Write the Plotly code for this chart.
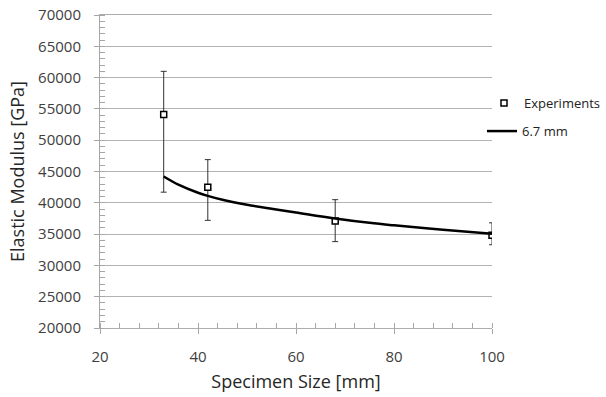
import plotly.graph_objects as go

exp_size = [33, 42, 68, 100]
exp_modulus = [54100, 42500, 37100, 34800]
err_plus = [6900, 4400, 3400, 2000]
err_minus = [12400, 5300, 3300, 1500]

curve_size = [33, 36, 40, 42, 45, 50, 55, 60, 68, 75, 80, 90, 100]
curve_modulus = [44200, 42900, 41600, 41100, 40500, 39700, 39050, 38450, 37500, 36800, 36400, 35700, 35050]

font = "Open Sans, Liberation Sans, sans-serif"

fig = go.Figure()
fig.add_trace(go.Scatter(
    x=exp_size, y=exp_modulus, mode="markers", name="Experiments", showlegend=True,
    marker=dict(symbol="square", size=6, color="white", line=dict(color="black", width=1.5)),
    error_y=dict(type="data", symmetric=False, array=err_plus, arrayminus=err_minus,
                 color="#333333", thickness=1, width=3),
    legend="legend"))
fig.add_trace(go.Scatter(
    x=curve_size, y=curve_modulus, mode="lines", name="6.7 mm", showlegend=True,
    line=dict(color="black", width=2.5, shape="spline"), legend="legend2"))

fig.update_layout(
    width=606, height=397, showlegend=True,
    margin=dict(l=100, r=114, t=15, b=69, autoexpand=False),
    paper_bgcolor="white", plot_bgcolor="white",
    font=dict(family=font, size=14, color="#404040"),
    legend=dict(x=0.9796, y=0.719, xanchor="left", yanchor="middle",
                font=dict(size=13, color="#222222"), bgcolor="rgba(0,0,0,0)",
                itemwidth=30, tracegroupgap=0),
    legend2=dict(x=0.9745, y=0.629, xanchor="left", yanchor="middle",
                 font=dict(size=13, color="#222222"), bgcolor="rgba(0,0,0,0)",
                 itemwidth=30, tracegroupgap=0),
    xaxis=dict(range=[20, 100], dtick=20, tick0=20, automargin=False,
               ticklabelstandoff=10, mirror=True,
               showgrid=False, zeroline=False,
               showline=True, linecolor="#adadad", linewidth=1,
               ticks="outside", ticklen=5, tickcolor="#a6a6a6",
               minor=dict(dtick=4, ticks="inside", ticklen=5, tickcolor="#a6a6a6", showgrid=False),
               title=dict(text="Specimen Size [mm]", font=dict(size=18, color="#262626"), standoff=10),
               tickfont=dict(size=15, color="#404040")),
    yaxis=dict(range=[20000, 70000], dtick=5000, tick0=20000, automargin=False,
               tickformat="d", ticklabelstandoff=10,
               showgrid=True, gridcolor="#b3b3b3", gridwidth=1, zeroline=False,
               showline=True, linecolor="#a6a6a6", linewidth=1,
               ticks="outside", ticklen=5, tickcolor="#a6a6a6",
               minor=dict(dtick=1000, ticks="inside", ticklen=5, tickcolor="#a6a6a6", showgrid=False),
               title=dict(text="Elastic Modulus [GPa]", font=dict(size=18, color="#262626"), standoff=8),
               tickfont=dict(size=15, color="#404040")),
)

fig.write_html("out.html", config={"displayModeBar": False},
               post_script="document.body.style.margin='0px';")
